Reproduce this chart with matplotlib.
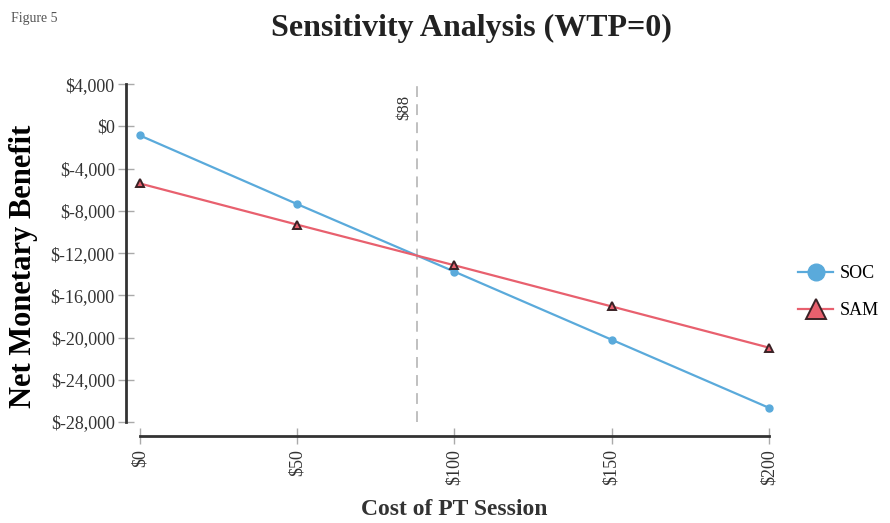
import matplotlib
matplotlib.use("Agg")
import matplotlib.pyplot as plt

plt.rcParams["font.family"] = ["Liberation Serif", "DejaVu Serif"]

cost = [0, 50, 100, 150, 200]
soc = [-850, -7350, -13750, -20200, -26650]
sam = [-5400, -9300, -13150, -17050, -20950]
threshold = 88

y_ticks = [4000, 0, -4000, -8000, -12000, -16000, -20000, -24000, -28000]
y_labels = ["$4,000", "$0", "$-4,000", "$-8,000", "$-12,000",
            "$-16,000", "$-20,000", "$-24,000", "$-28,000"]
x_ticks = [0, 50, 100, 150, 200]
x_labels = ["$0", "$50", "$100", "$150", "$200"]

fig = plt.figure(figsize=(8.9, 5.23), dpi=100)
ax = fig.add_axes([0.157, 0.193, 0.707, 0.646])

ax.plot(cost, soc, color="#5aaadb", lw=1.6, marker="o", ms=5,
        label="SOC", zorder=3, clip_on=False)
ax.plot(cost, sam, color="#e8606e", lw=1.6, marker="^", ms=6,
        mfc="#e8606e", mec="#3a2226", mew=1.4, label="SAM", zorder=3,
        clip_on=False)

ax.axvline(threshold, color="#bbbbbb", lw=1.3, ls=(0, (6, 4)), zorder=1)
ax.text(threshold - 1.5, 3000, "$88", rotation=90, ha="right", va="top",
        fontsize=12, color="#333333")

ax.set_xlim(0, 200)
ax.set_ylim(-28000, 4000)
ax.set_yticks(y_ticks)
ax.set_yticklabels(y_labels)
ax.set_xticks(x_ticks)
ax.set_xticklabels(x_labels)

for s in ["top", "right"]:
    ax.spines[s].set_visible(False)
for s in ["left", "bottom"]:
    ax.spines[s].set_position(("outward", 10))
    ax.spines[s].set_linewidth(2)
    ax.spines[s].set_color("#333333")

ax.tick_params(axis="both", direction="inout", length=12, width=1,
               color="#aaaaaa", labelsize=13, labelcolor="#333333")
ax.tick_params(axis="y", pad=2)
ax.tick_params(axis="x", labelrotation=90)

ax.set_ylabel("Net Monetary Benefit", fontsize=22, fontweight="bold")
ax.yaxis.set_label_coords(-0.162, 0.46)
ax.set_xlabel("Cost of PT Session", fontsize=17, fontweight="bold",
              labelpad=10, color="#333333")

fig.text(0.53, 0.945, "Sensitivity Analysis (WTP=0)", ha="center",
         va="center", fontsize=23, fontweight="bold", color="#222222")
fig.text(0.012, 0.965, "Figure 5", fontsize=10, color="#555555",
         va="center")

ax.legend(loc="center left", bbox_to_anchor=(1.021, 0.385),
          frameon=False, fontsize=13, markerscale=2.4,
          handlelength=1.9, handletextpad=0.4, labelspacing=1.1)

fig.savefig("out.png", dpi=100)
